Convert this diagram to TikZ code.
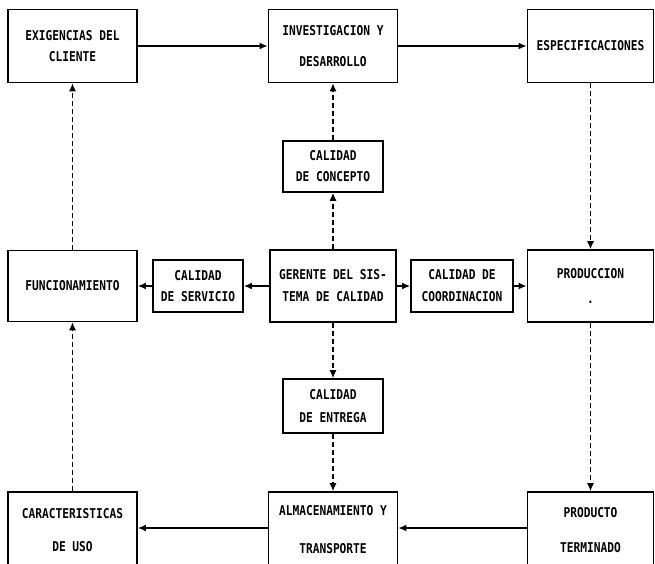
\documentclass[tikz,border=0pt]{standalone}
\usepackage{fontspec}
\usetikzlibrary{arrows.meta}
\newfontfamily\boxfont[FakeStretch=0.83]{DejaVu Sans Mono}
\begin{document}
\begin{tikzpicture}[x=1pt,y=-1pt,
  box/.style={draw, line width=1.8pt, inner sep=0pt, align=center,
    font=\boxfont\bfseries\fontsize{13.5}{21}\selectfont},
  bigbox/.style={box, minimum width=129pt, minimum height=73pt},
  smallbox/.style={box, minimum width=100pt, minimum height=52pt},
  flow/.style={line width=1.4pt, -{Latex[length=8pt,width=7pt]}},
  dflow/.style={line width=1.1pt, dash pattern=on 5pt off 3pt,
    -{Latex[length=8pt,width=7pt]}}]
\useasboundingbox (0,0) rectangle (655,563);
\begin{scope}
\clip (0,0) rectangle (655,563);

% top row
\node[bigbox] (exig) at (72.5,46) {EXIGENCIAS DEL\\CLIENTE};
\node[bigbox] (inv) at (333,46) {INVESTIGACION Y\\[10pt]DESARROLLO};
\node[bigbox, minimum width=126pt] (espec) at (590.5,46) {ESPECIFICACIONES};

% middle row
\node[bigbox, minimum height=71pt] (func) at (72.5,286) {FUNCIONAMIENTO};
\node[smallbox, minimum width=90pt] (serv) at (198,286) {CALIDAD\\DE SERVICIO};
\node[bigbox, minimum width=126pt, minimum height=72pt] (ger) at (333,286)
  {GERENTE DEL SIS-\\[1pt]TEMA DE CALIDAD};
\node[smallbox, minimum width=102pt] (coord) at (462,286)
  {CALIDAD DE\\[1pt]COORDINACION};
\node[bigbox, minimum width=126pt, minimum height=72pt] (prod) at (590.5,286)
  {PRODUCCION\\[4pt].};

% quality boxes above and below the manager
\node[smallbox, minimum height=51pt] (conc) at (333,166.5) {CALIDAD\\DE CONCEPTO};
\node[smallbox, minimum height=54pt] (entr) at (333,406) {CALIDAD\\[2pt]DE ENTREGA};

% bottom row
\node[bigbox, minimum height=76pt] (carac) at (72.5,530)
  {CARACTERISTICAS\\[12pt]DE USO};
\node[bigbox, minimum height=76pt] (alm) at (333,530)
  {ALMACENAMIENTO Y\\[17pt]TRANSPORTE};
\node[bigbox, minimum width=126pt, minimum height=76pt] (term) at (590.5,530)
  {PRODUCTO\\[14pt]TERMINADO};
\end{scope}

% main cycle
\draw[flow] (exig) -- (inv);
\draw[flow] (inv) -- (espec);
\draw[dflow] (espec) -- (prod);
\draw[dflow] (prod) -- (term);
\draw[flow] (term.west |- 0,528) -- (alm.east |- 0,528);
\draw[flow] (alm.west |- 0,528) -- (carac.east |- 0,528);
\draw[dflow] (carac) -- (func);
\draw[dflow] (func) -- (exig);

% manager links
\draw[dflow] (ger) -- (conc);
\draw[dflow] (conc) -- (inv);
\draw[flow] (ger) -- (serv);
\draw[flow] (serv) -- (func);
\draw[flow] (ger) -- (coord);
\draw[flow] (coord) -- (prod);
\draw[dflow] (ger) -- (entr);
\draw[dflow] (entr) -- (alm);
\end{tikzpicture}
\end{document}
